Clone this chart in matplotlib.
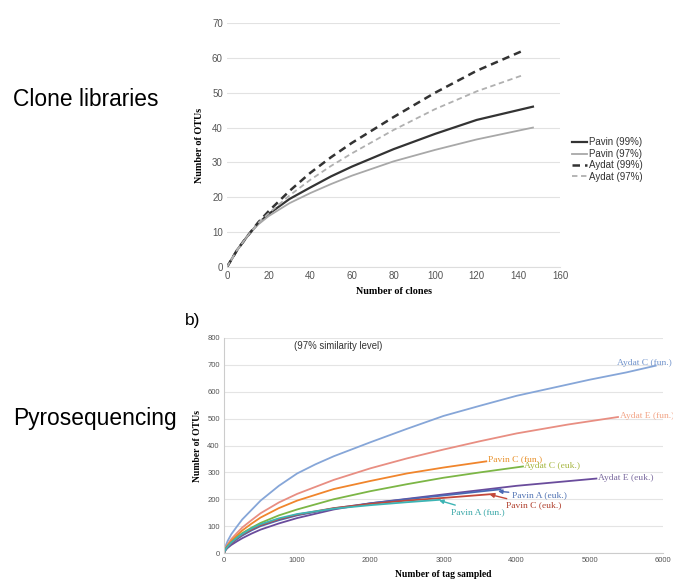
import matplotlib
matplotlib.use("Agg")
import matplotlib.pyplot as plt

# --- a) clone libraries ---
clones_pavin = [0, 5, 10, 15, 20, 30, 40, 50, 60, 80, 100, 120, 147]
pavin_99 = [0, 5, 9, 12.5, 15.2, 19.5, 22.8, 26, 28.8, 33.8, 38.2, 42.2, 46]
pavin_97 = [0, 5, 9, 12.2, 14.6, 18.3, 21.2, 23.8, 26.2, 30.3, 33.6, 36.6, 40]
clones_aydat = [0, 5, 10, 15, 20, 30, 40, 50, 60, 80, 100, 120, 142]
aydat_99 = [0, 5, 9, 12.8, 16, 21.8, 27, 31.5, 35.6, 43, 50, 56.3, 62]
aydat_97 = [0, 5, 9, 12.6, 15.4, 20.5, 25, 29, 32.6, 39.3, 45.3, 50.4, 55]

# --- b) pyrosequencing (97% similarity) ---
pyro_names = ["Aydat C (fun.)", "Aydat E (fun.)", "Pavin C (fun.)", "Aydat C (euk.)",
              "Aydat E (euk.)", "Pavin A (euk.)", "Pavin C (euk.)", "Pavin A (fun.)"]
pyro_x = [
    [0, 25, 50, 100, 175, 250, 375, 500, 750, 1000, 1250, 1500, 2000, 2500, 3000,
     3500, 4000, 4500, 5000, 5500, 5900],
    [0, 25, 50, 100, 175, 250, 375, 500, 750, 1000, 1500, 2000, 2500, 3000, 3500,
     4000, 4700, 5385],
    [0, 25, 50, 100, 175, 250, 375, 500, 750, 1000, 1500, 2000, 2500, 3000, 3585],
    [0, 25, 50, 100, 175, 250, 375, 500, 750, 1000, 1500, 2000, 2500, 3000, 3500, 4086],
    [0, 25, 50, 100, 175, 250, 375, 500, 750, 1000, 1500, 2000, 3000, 4000, 5090],
    [0, 25, 50, 100, 175, 250, 375, 500, 750, 1000, 1500, 2000, 2500, 3000, 3780],
    [0, 25, 50, 100, 175, 250, 375, 500, 750, 1000, 1500, 2000, 2500, 3000, 3700],
    [0, 25, 50, 100, 175, 250, 375, 500, 750, 1000, 1500, 2000, 2500, 2950],
]
pyro_y = [
    [0, 28, 45, 70, 98, 125, 160, 195, 250, 296, 330, 360, 412, 462, 510,
     548, 585, 615, 645, 672, 697],
    [0, 20, 32, 52, 74, 95, 122, 148, 188, 220, 272, 315, 352, 385, 416,
     445, 478, 506],
    [0, 18, 28, 45, 65, 84, 109, 132, 167, 195, 238, 268, 296, 318, 341],
    [0, 16, 25, 40, 58, 74, 94, 112, 140, 162, 200, 230, 256, 280, 300, 322],
    [0, 12, 19, 30, 43, 55, 72, 87, 110, 130, 162, 185, 218, 250, 277],
    [0, 14, 22, 35, 51, 65, 84, 100, 122, 140, 166, 185, 200, 214, 237],
    [0, 15, 23, 37, 54, 69, 88, 104, 126, 143, 167, 183, 195, 205, 220],
    [0, 15, 24, 39, 56, 71, 91, 107, 129, 145, 165, 178, 189, 198],
]
pyro_colors = ["#86a6d8", "#e88e82", "#f0852c", "#7cb646",
               "#6a4c9c", "#4a68b4", "#c4473a", "#3cb4b4"]
text_colors = ["#7294cc", "#f2a486", "#e8922e", "#a6b640",
               "#7a6a9e", "#5274b4", "#b0402e", "#3aa8a8"]

fig = plt.figure(figsize=(6.73, 5.84), dpi=100)
sans = "Liberation Sans"
serif = "Liberation Serif"

# ---------- top chart ----------
ax1 = fig.add_axes([227 / 673, 1 - 267 / 584, 333 / 673, 244 / 584])
ax1.plot(clones_pavin, pavin_99, color="#333333", lw=1.6, label="Pavin (99%)")
ax1.plot(clones_pavin, pavin_97, color="#a8a8a8", lw=1.3, label="Pavin (97%)")
ax1.plot(clones_aydat, aydat_99, color="#333333", lw=1.8, ls=(0, (3, 2)), label="Aydat (99%)")
ax1.plot(clones_aydat, aydat_97, color="#b0b0b0", lw=1.3, ls=(0, (3, 2)), label="Aydat (97%)")
ax1.set_xlim(0, 160)
ax1.set_ylim(0, 70)
ax1.set_xticks(range(0, 161, 20))
ax1.set_yticks(range(0, 71, 10))
ax1.grid(axis="y", color="#e2e2e2", lw=0.8)
ax1.set_axisbelow(True)
for s in ["top", "right", "left"]:
    ax1.spines[s].set_visible(False)
ax1.spines["bottom"].set_color("#dddddd")
ax1.tick_params(length=0, labelsize=7, labelcolor="#555555", pad=3)
for lab in ax1.get_xticklabels() + ax1.get_yticklabels():
    lab.set_fontfamily(sans)
ax1.set_xlabel("Number of clones", fontsize=7.3, fontweight="bold", family=serif, labelpad=4)
ax1.set_ylabel("Number of OTUs", fontsize=7.3, fontweight="bold", family=serif, labelpad=6)
leg = ax1.legend(loc="center left", bbox_to_anchor=(1.01, 0.44), frameon=False,
                 prop={"family": sans, "size": 7}, handlelength=1.5,
                 handletextpad=0.2, labelspacing=0.15)
for t in leg.get_texts():
    t.set_color("#333333")

# ---------- bottom chart ----------
ax2 = fig.add_axes([224 / 673, 1 - 553 / 584, 439 / 673, 215 / 584])
for xs, ys, c, n in zip(pyro_x, pyro_y, pyro_colors, pyro_names):
    ax2.plot(xs, ys, color=c, lw=1.3, label=n)
ax2.set_xlim(0, 6000)
ax2.set_ylim(0, 800)
ax2.set_xticks(range(0, 6001, 1000))
ax2.set_yticks(range(0, 801, 100))
ax2.grid(axis="y", color="#e4e4e4", lw=0.8)
ax2.set_axisbelow(True)
for s in ["top", "right"]:
    ax2.spines[s].set_visible(False)
ax2.spines["left"].set_color("#cccccc")
ax2.spines["bottom"].set_color("#cccccc")
ax2.tick_params(length=0, labelsize=5.5, labelcolor="#555555", pad=3)
for lab in ax2.get_xticklabels() + ax2.get_yticklabels():
    lab.set_fontfamily(sans)
ax2.set_xlabel("Number of tag sampled", fontsize=6.9, fontweight="bold", family=serif, labelpad=4)
ax2.set_ylabel("Number of OTUs", fontsize=6.9, fontweight="bold", family=serif, labelpad=4)
ax2.text(960, 770, "(97% similarity level)", fontsize=6.9, family=sans, color="#333333",
         va="center")

# end-of-curve labels
end_labels = {0: (5370, 707), 1: (5410, 511), 2: (3610, 348), 3: (4095, 322), 4: (5110, 280)}
for i, (lx, ly) in end_labels.items():
    ax2.text(lx, ly, pyro_names[i], fontsize=6.8, family=serif, color=text_colors[i],
             va="center", ha="left")

# arrow labels
arrow_labels = {5: ((3930, 215), (3745, 230)),
                6: ((3860, 177), (3630, 218)),
                7: ((3107, 153), (2940, 196))}
for i, (txt_xy, tip_xy) in arrow_labels.items():
    ax2.annotate(pyro_names[i], xy=tip_xy, xytext=txt_xy, fontsize=6.8, family=serif,
                 color=text_colors[i], va="center", ha="left",
                 arrowprops=dict(arrowstyle="-|>", color=pyro_colors[i], lw=1.0,
                                 mutation_scale=6, shrinkA=0, shrinkB=0))

# panel captions
fig.text(13 / 673, 1 - 100 / 584, "Clone libraries", fontsize=16.4, family=sans, va="center")
fig.text(13 / 673, 1 - 418 / 584, "Pyrosequencing", fontsize=16.4, family=sans, va="center")
fig.text(185 / 673, 1 - 320 / 584, "b)", fontsize=12.5, family=sans, va="center")

fig.savefig("out.png", dpi=100)
